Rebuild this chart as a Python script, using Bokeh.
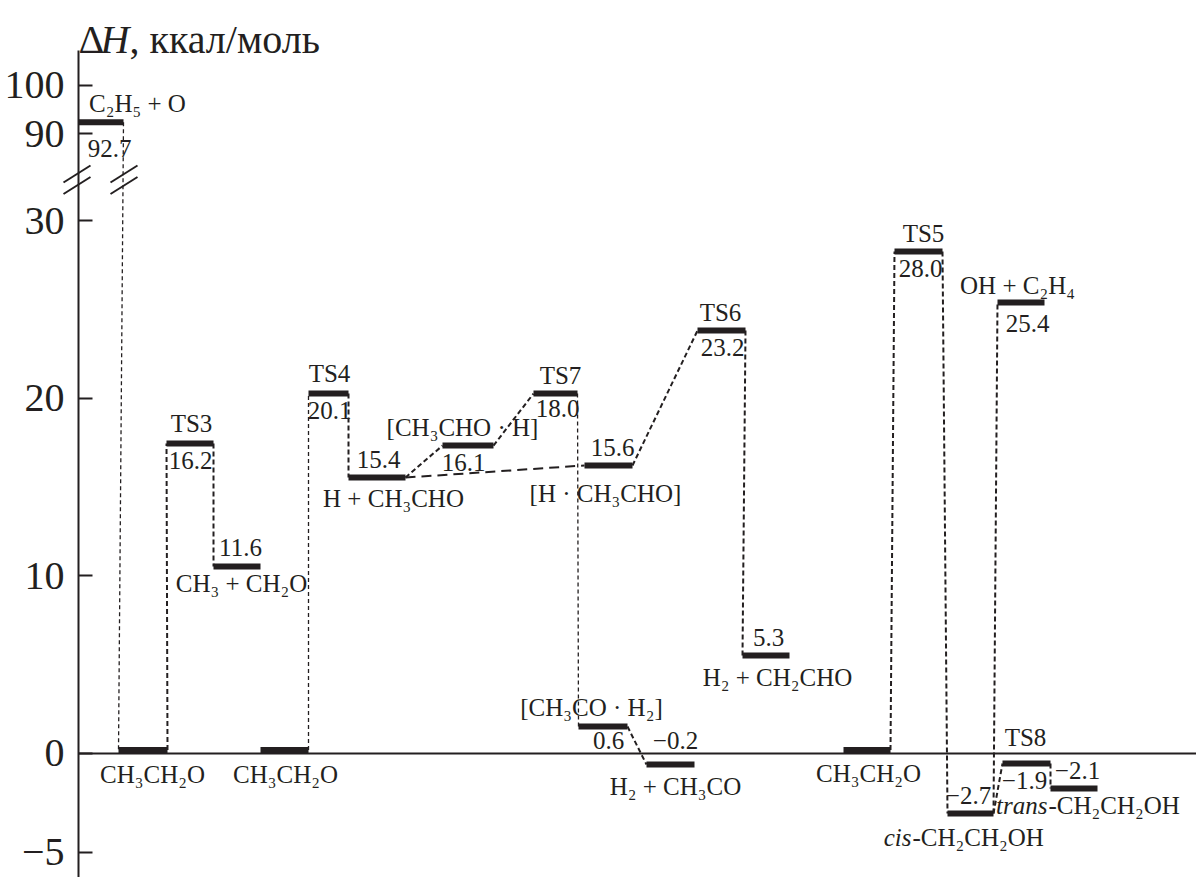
from bokeh.plotting import figure
from bokeh.models import Range1d, LinearAxis, FixedTicker
from bokeh.core.properties import value
from bokeh.embed import file_html
from bokeh.resources import INLINE

# ---------------- data ----------------
states = ["C₂H₅ + O", "CH₃CH₂O", "TS3", "CH₃ + CH₂O", "CH₃CH₂O", "TS4",
          "H + CH₃CHO", "[CH₃CHO · H]", "TS7", "[H · CH₃CHO]", "TS6",
          "H₂ + CH₂CHO", "[CH₃CO · H₂]", "H₂ + CH₃CO", "CH₃CH₂O", "TS5",
          "OH + C₂H₄", "cis-CH₂CH₂OH", "TS8", "trans-CH₂CH₂OH"]
energy_text = ["92.7", "", "16.2", "11.6", "", "20.1", "15.4", "16.1", "18.0",
               "15.6", "23.2", "5.3", "0.6", "−0.2", "", "28.0", "25.4",
               "−2.7", "−1.9", "−2.1"]
# levels at which the bars are drawn in the picture (kcal/mol)
drawn_level = [91.7, 0.0, 17.27, 10.34, 0.0, 20.08, 15.35, 17.15, 20.08, 16.03,
               23.63, 5.32, 1.32, -0.82, 0.0, 28.08, 25.21, -3.58, -0.76, -2.17]
tick_values = [-5.6, 0, 10, 20, 30, 90, 100]
tick_labels = ["−5", "0", "10", "20", "30", "90", "100"]
# pathways: (from state, to state, style)
links = [(0, 1, "thin"), (1, 2, "dash"), (2, 3, "dash"), (4, 5, "thin"),
         (5, 6, "dash"), (6, 7, "dash"), (7, 8, "dash"), (6, 9, "long"),
         (8, 12, "thin"), (12, 13, "dash"), (9, 10, "dash"), (10, 11, "dash"),
         (14, 15, "dash"), (15, 17, "dash"), (17, 16, "dash"), (17, 18, "dash"),
         (18, 19, "dash")]

# ---------------- layout (reaction-coordinate placement) ----------------
x_left = [78, 118, 166, 213, 260, 308, 348, 442, 533, 584, 697, 742, 578, 646,
          843, 894, 997, 947, 1002, 1050]
x_right = [123, 167, 213, 260, 308, 348, 405, 493, 577, 632, 745, 789, 627, 694,
           890, 942, 1044, 993, 1050, 1097]
# label offsets in px relative to the bar centre
name_dx = [36.5, 9.5, 1.5, 4.5, 1, 1, 16.5, -5.5, 5, -3, -1, 11.5, -11.5, 5, 1.5, 5, -3.5, 0, -1, 0]
name_dy = [-19, 24, -20, 17, 24, -20, 21, -18, -18, 28, -18, 22, -19, 22, 23, -18, -17, 24, -26, 17]
val_dx = [8.5, 0, 0.5, 3.5, 0, 1, 1.5, -4.5, 2, 4, 1, 2.5, 5.5, 5, 0, 2, 6.5, -2, -2, 3.5]
val_dy = [26, 0, 17, -19, 0, 17, -18, 17, 15, -18, 17, -18, 14, -24, 0, 17, 21, -18, 17, -18]
italic_split = {17: 911, 19: 1047}   # x where the italic prefix ends

PX = 17.75           # px per kcal/mol in the lower part
ZERO_PX = 752.5
W, H = 1196, 877
BAR_T = 6 / PX
INK = "#231f20"
FONT = "Liberation Serif"


def to_plot(v):
    """broken axis: values >= 90 are compressed above the break"""
    if v >= 80:
        return 34.90 + (v - 90) * 0.2711
    return v


y_top = ZERO_PX / PX
y_bot = y_top - H / PX

p = figure(width=W, height=H, output_backend="svg", toolbar_location=None,
           x_range=Range1d(0, W), y_range=Range1d(y_bot, y_top),
           x_axis_type=None, y_axis_type=None, min_border=0)
p.outline_line_color = None
p.xgrid.visible = False
p.ygrid.visible = False
p.background_fill_color = "white"

# y axis
yax = LinearAxis(fixed_location=78)
yax.ticker = FixedTicker(ticks=[to_plot(t) for t in tick_values])
yax.major_label_overrides = {to_plot(t): lab for t, lab in zip(tick_values, tick_labels)}
yax.bounds = (y_bot, (ZERO_PX - 50) / PX)
yax.axis_line_width = 2
yax.axis_line_color = INK
yax.major_tick_in = 14
yax.major_tick_out = 0
yax.major_tick_line_width = 2
yax.major_tick_line_color = INK
yax.minor_tick_line_color = None
yax.major_label_standoff = 14
yax.major_label_text_font = FONT
yax.major_label_text_font_size = "40px"
yax.major_label_text_color = INK
p.add_layout(yax, "left")

# zero line (x axis at y = 0)
xax = LinearAxis(fixed_location=0)
xax.bounds = (78, W)
xax.axis_line_width = 2
xax.axis_line_color = INK
xax.major_tick_line_color = None
xax.minor_tick_line_color = None
xax.major_label_text_font_size = "0px"
xax.ticker = FixedTicker(ticks=[])
p.add_layout(xax, "below")

# bars
bottoms = [to_plot(v) for v in drawn_level]
centers = [b + BAR_T / 2 for b in bottoms]
p.quad(left=x_left, right=x_right, bottom=bottoms, top=[b + BAR_T for b in bottoms],
       fill_color=INK, line_color=None)

# connectors
styles = {"thin": dict(line_width=1.3, line_dash="4 3"),
          "dash": dict(line_width=2.0, line_dash="5 3"),
          "long": dict(line_width=2.0, line_dash="10 6")}
for st, opts in styles.items():
    sel = [(a, b) for a, b, s in links if s == st]
    p.segment(x0=[x_right[a] for a, b in sel], y0=[centers[a] for a, b in sel],
              x1=[x_left[b] for a, b in sel], y1=[centers[b] for a, b in sel],
              line_color=INK, **opts)

# break marks on the axis and on the C2H5+O connector
brk_y = (ZERO_PX - 173.5) / PX
bx0, by0, bx1, by1 = [], [], [], []
for cx in (76.5, 123.5):
    for off in (0, 11.5):
        yc = brk_y - off / PX
        bx0.append(cx - 13.5); by0.append(yc - 8.5 / PX)
        bx1.append(cx + 13.5); by1.append(yc + 8.5 / PX)
p.segment(x0=bx0, y0=by0, x1=bx1, y1=by1, line_color=INK, line_width=2)

# labels
cx = [(a + b) / 2 for a, b in zip(x_left, x_right)]
nx, ny, nt = [], [], []
ix, iy, it, rx, ry, rt = [], [], [], [], [], []
for i, name in enumerate(states):
    yy = centers[i] - name_dy[i] / PX
    if i in italic_split:
        split = italic_split[i]
        pre, rest = name.split("-", 1)
        ix.append(split); iy.append(yy); it.append(pre)
        rx.append(split + 1); ry.append(yy); rt.append("-" + rest)
    else:
        nx.append(cx[i] + name_dx[i]); ny.append(yy); nt.append(name)
vx, vy, vt = [], [], []
for i, t in enumerate(energy_text):
    if t:
        vx.append(cx[i] + val_dx[i]); vy.append(centers[i] - val_dy[i] / PX); vt.append(t)

common = dict(text_font=value(FONT), text_font_size="25px", text_color=INK,
              text_baseline="middle")
p.text(x=nx, y=ny, text=nt, text_align="center", **common)
p.text(x=vx, y=vy, text=vt, text_align="center", **common)
p.text(x=ix, y=iy, text=it, text_align="right", text_font_style="italic", **common)
p.text(x=rx, y=ry, text=rt, text_align="left", **common)

# axis title
ty = (ZERO_PX - 39) / PX
tcommon = dict(text_font=value(FONT), text_font_size="40px", text_color=INK,
               text_baseline="alphabetic", text_align="left")
p.text(x=[78], y=[ty], text=["Δ"], **tcommon)
p.text(x=[100], y=[ty], text=["H"], text_font_style="italic", **tcommon)
p.text(x=[129], y=[ty], text=[", ккал/моль"], **tcommon)

open("out.html", "w").write(file_html(p, INLINE))
